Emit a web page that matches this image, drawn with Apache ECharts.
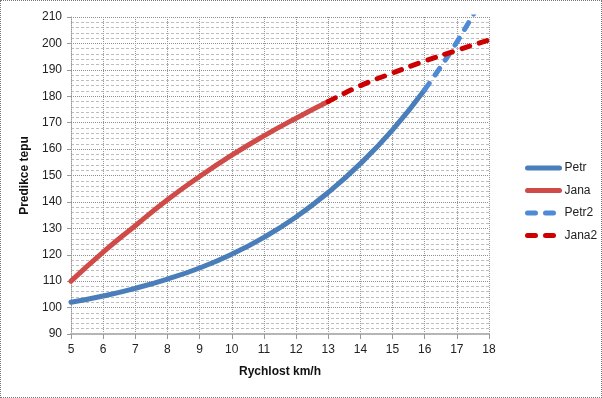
<!DOCTYPE html>
<html>
<head>
<meta charset="utf-8">
<script src="https://cdn.jsdelivr.net/npm/echarts@6/dist/echarts.min.js"></script>
<style>
  html, body { margin: 0; padding: 0; background: #fff; }
  #chart { width: 602px; height: 398px; box-sizing: border-box; border: 1px dotted #777; }
</style>
</head>
<body>
<div id="chart"></div>
<script>
// hodnoty
var xPetr = [5, 6, 7, 8, 9, 10, 11, 12, 13, 14, 15, 16];
var petr = [102, 104.4, 107.3, 110.8, 115, 120.2, 126.6, 134.3, 143.6, 154.5, 167.3, 182.5];
var xPetr2 = [16, 17, 18];
var petr2 = [182.5, 200.5, 221.5];
var xJana = [5, 6, 7, 8, 9, 10, 11, 12, 13];
var jana = [110, 121, 131, 140.8, 149.6, 157.7, 165, 171.7, 178];
var xJana2 = [13, 14, 15, 16, 17, 18];
var jana2 = [178, 184, 188.8, 193.3, 197.4, 201.3];

function pairs(xs, ys) {
    return xs.map(function (x, i) { return [x, ys[i]]; });
}

var font = '"Liberation Sans", Arial, sans-serif';
var myChart = echarts.init(document.getElementById('chart'));
myChart.setOption({
    animation: false,
    textStyle: { fontFamily: font },
    grid: { left: 70, right: 112, top: 16, bottom: 63, containLabel: false },
    legend: {
        orient: 'vertical',
        left: 519,
        top: 156,
        itemWidth: 32,
        itemHeight: 14,
        itemGap: 10.5,
        itemStyle: { color: 'transparent', borderWidth: 0 },
        lineStyle: { width: 5, cap: 'round' },
        textStyle: { color: '#222', fontSize: 12, fontFamily: font },
        data: ['Petr', 'Jana', 'Petr2', 'Jana2']
    },
    xAxis: {
        type: 'value',
        min: 5, max: 18, interval: 1,
        name: 'Rychlost km/h',
        nameLocation: 'middle',
        nameGap: 32,
        nameTextStyle: { color: '#111', fontWeight: 'bold', fontSize: 12, fontFamily: font },
        axisLine: { lineStyle: { color: '#b5b5b5', width: 2 } },
        axisTick: { show: true, length: 5, lineStyle: { color: '#999' } },
        axisLabel: { color: '#222', fontSize: 12, margin: 10 },
        splitLine: { show: true, lineStyle: { color: '#9a9a9a', type: 'dotted', width: 1 } }
    },
    yAxis: {
        type: 'value',
        min: 90, max: 210, interval: 10,
        name: 'Predikce tepu',
        nameLocation: 'middle',
        nameGap: 32,
        nameTextStyle: { color: '#111', fontWeight: 'bold', fontSize: 12, fontFamily: font },
        axisLine: { show: true, lineStyle: { color: '#999', type: 'dotted' } },
        axisTick: { show: true, length: 4, lineStyle: { color: '#999' } },
        axisLabel: { color: '#222', fontSize: 12, margin: 9 },
        splitLine: { show: true, lineStyle: { color: '#8f8f8f', type: 'dotted', width: 1 } },
        minorTick: { show: false, splitNumber: 5 },
        minorSplitLine: { show: true, lineStyle: { color: '#bdbdbd', type: [3, 2], width: 1 } }
    },
    series: [
        {
            name: 'Petr', type: 'line', smooth: 0.5, symbol: 'none',
            data: pairs(xPetr, petr),
            itemStyle: { color: '#4a7ebb' },
            lineStyle: { color: '#4a7ebb', width: 5, cap: 'round' }
        },
        {
            name: 'Jana', type: 'line', smooth: 0.5, symbol: 'none',
            data: pairs(xJana, jana),
            itemStyle: { color: '#d04a47' },
            lineStyle: { color: '#d04a47', width: 5, cap: 'round' }
        },
        {
            name: 'Petr2', type: 'line', smooth: 0.5, symbol: 'none',
            data: pairs(xPetr2, petr2),
            itemStyle: { color: '#4f8ad6' },
            lineStyle: { color: '#4f8ad6', width: 5, type: [8, 10], cap: 'round' }
        },
        {
            name: 'Jana2', type: 'line', smooth: 0.5, symbol: 'none',
            data: pairs(xJana2, jana2),
            itemStyle: { color: '#cc0000' },
            lineStyle: { color: '#cc0000', width: 5, type: [8, 10], cap: 'round' }
        }
    ]
});
</script>
</body>
</html>
